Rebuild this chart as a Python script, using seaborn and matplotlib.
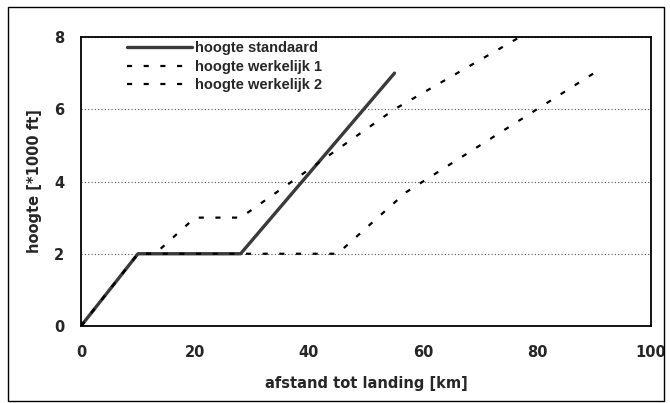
import matplotlib
matplotlib.use("Agg")
import matplotlib.pyplot as plt
import matplotlib.patches as mpatches
import seaborn as sns
import pandas as pd

# data (afstand km, hoogte *1000 ft)
std_x = [0, 10, 28, 55]
std_y = [0, 2, 2, 7]
w1_x = [0, 10, 13, 20, 28, 55, 77]
w1_y = [0, 2, 2, 3, 3, 6, 8]
w2_x = [0, 10, 45, 57, 90]
w2_y = [0, 2, 2, 3.7, 7]
labels = ["hoogte standaard", "hoogte werkelijk 1", "hoogte werkelijk 2"]
x_ticks = [0, 20, 40, 60, 80, 100]
y_ticks = [0, 2, 4, 6, 8]

sns.set_theme(style="white")
plt.rcParams['font.family'] = ['DejaVu Sans']
plt.rcParams['font.weight'] = 'bold'

fig = plt.figure(figsize=(6.7, 4.03), dpi=100)
ax = fig.add_axes([81/670, 1-326/403, 570/670, 289/403])

df_std = pd.DataFrame({"x": std_x, "y": std_y})
df_w1 = pd.DataFrame({"x": w1_x, "y": w1_y})
df_w2 = pd.DataFrame({"x": w2_x, "y": w2_y})

sns.lineplot(data=df_std, x="x", y="y", ax=ax, color="#3a3a3a", lw=2.4,
             label=labels[0], sort=False)
sns.lineplot(data=df_w1, x="x", y="y", ax=ax, color="black", lw=1.6,
             dashes=False, label=labels[1], sort=False)
sns.lineplot(data=df_w2, x="x", y="y", ax=ax, color="black", lw=1.6,
             dashes=False, label=labels[2], sort=False)
lines = ax.get_lines()
lines[1].set_dashes((2.3, 5.2))
lines[2].set_dashes((2.3, 5.2))

ax.set_xlim(0, 100)
ax.set_ylim(0, 8)
ax.set_xticks(x_ticks)
ax.set_yticks(y_ticks)
ax.set_xticklabels([str(v) for v in x_ticks], fontsize=10.5, fontweight='bold')
ax.set_yticklabels([str(v) for v in y_ticks], fontsize=10.5, fontweight='bold')
ax.tick_params(axis='x', direction='in', length=4, width=1, color='black', pad=14)
ax.tick_params(axis='y', direction='out', length=4, width=1, color='black', pad=8)
ax.yaxis.grid(True, color='#555555', linestyle=(0, (1, 2)), lw=0.8)
ax.xaxis.grid(False)
for s in ax.spines.values():
    s.set_visible(True)
    s.set_color('black')
    s.set_linewidth(1.3)

ax.set_xlabel("afstand tot landing [km]", fontsize=10.5, fontweight='bold', labelpad=11)
ax.set_ylabel("hoogte [*1000 ft]", fontsize=10.5, fontweight='bold', labelpad=9)

leg = ax.legend(loc='upper left', bbox_to_anchor=(0.08, 0.985), frameon=False,
                handlelength=4.5, handletextpad=0.2, labelspacing=0.3,
                borderpad=0, borderaxespad=0,
                prop={'family': ['Liberation Sans'], 'weight': 'bold', 'size': 10.5})

fig.patches.append(mpatches.Rectangle((8/670, 2/403), 656/670, 394/403,
                                      transform=fig.transFigure, fill=False,
                                      edgecolor='black', lw=1))

fig.savefig("out.png", dpi=100)
